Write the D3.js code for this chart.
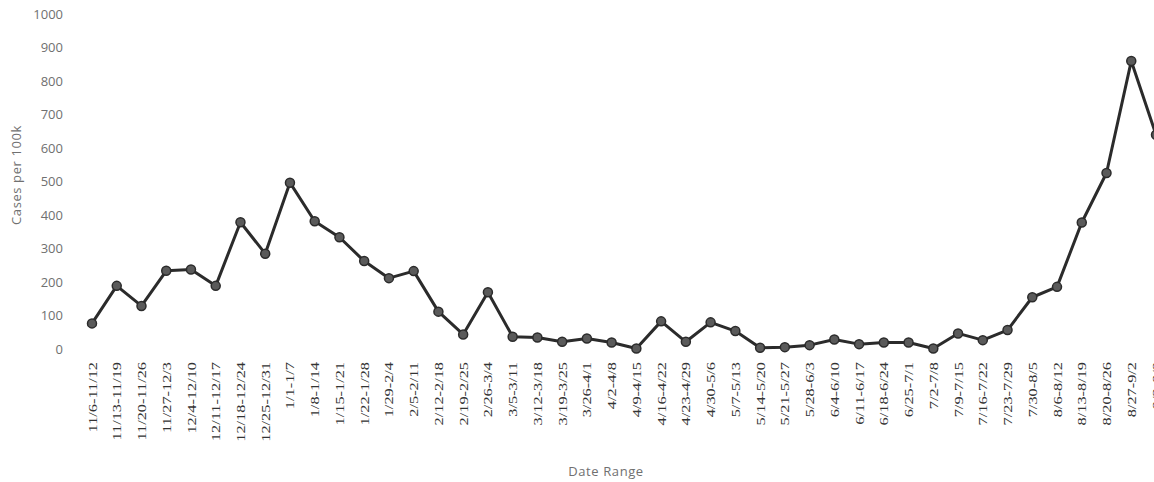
<!DOCTYPE html>
<html lang="en">
<head>
<meta charset="UTF-8">
<title>Cases per 100k</title>
<script src="https://d3js.org/d3.v7.min.js"></script>
<style>
  html, body { margin: 0; padding: 0; background: #fff; overflow: hidden; }
  svg { display: block; }
  .ytick text { font-family: "Open Sans", "Liberation Sans", sans-serif; font-size: 13px; fill: #707070; }
  .xtick text { font-family: "Liberation Serif", "DejaVu Serif", serif; font-size: 11.5px; fill: #333; }
  .axis-title { font-family: "Open Sans", "Liberation Sans", sans-serif; font-size: 13px; letter-spacing: 0.6px; fill: #707070; }
</style>
</head>
<body>
<svg width="1154" height="482"></svg>
<script>
// weekly date ranges
const weeks = [
  "11/6-11/12", "11/13-11/19", "11/20-11/26", "11/27-12/3", "12/4-12/10",
  "12/11-12/17", "12/18-12/24", "12/25-12/31", "1/1-1/7", "1/8-1/14",
  "1/15-1/21", "1/22-1/28", "1/29-2/4", "2/5-2/11", "2/12-2/18",
  "2/19-2/25", "2/26-3/4", "3/5-3/11", "3/12-3/18", "3/19-3/25",
  "3/26-4/1", "4/2-4/8", "4/9-4/15", "4/16-4/22", "4/23-4/29",
  "4/30-5/6", "5/7-5/13", "5/14-5/20", "5/21-5/27", "5/28-6/3",
  "6/4-6/10", "6/11-6/17", "6/18-6/24", "6/25-7/1", "7/2-7/8",
  "7/9-7/15", "7/16-7/22", "7/23-7/29", "7/30-8/5", "8/6-8/12",
  "8/13-8/19", "8/20-8/26", "8/27-9/2", "9/3-9/9"
];

const cases = [
  75, 187, 127, 232, 236,
  187, 377, 283, 495, 380,
  332, 261, 210, 231, 110,
  42, 168, 35, 33, 20,
  30, 18, 0, 81, 20,
  78, 52, 2, 4, 10,
  27, 13, 18, 18, 0,
  45, 25, 55, 153, 184,
  376, 524, 858, 638
];

const yTicks = [0, 100, 200, 300, 400, 500, 600, 700, 800, 900, 1000];

const svg = d3.select("svg");

var x = d3.scalePoint().domain(weeks).range([92, 1156]);
var y = d3.scaleLinear().domain([0, 1000]).range([348.5, 13.5]);

// y axis labels only, no line
var yAxis = svg.append("g")
  .attr("class", "ytick")
  .attr("transform", "translate(63,0)")
  .call(d3.axisLeft(y).tickValues(yTicks).tickFormat(d3.format("d")).tickSize(0).tickPadding(0));
yAxis.select(".domain").remove();
yAxis.selectAll("text").attr("dy", "0.35em");

// x axis labels, rotated and stretched like the original
var xAxis = svg.append("g")
  .attr("class", "xtick")
  .attr("transform", "translate(0,362)")
  .call(d3.axisBottom(x).tickSize(0).tickPadding(0));
xAxis.select(".domain").remove();
xAxis.selectAll("text")
  .attr("transform", "rotate(-90) scale(1.42,1)")
  .attr("x", 0)
  .attr("y", 0)
  .attr("dy", "0.35em")
  .style("text-anchor", "end");

svg.append("text")
  .attr("class", "axis-title")
  .attr("transform", "translate(16,175) rotate(-90)")
  .attr("text-anchor", "middle")
  .attr("dy", "0.35em")
  .text("Cases per 100k");

svg.append("text")
  .attr("class", "axis-title")
  .attr("x", 606)
  .attr("y", 471)
  .attr("text-anchor", "middle")
  .attr("dy", "0.35em")
  .text("Date Range");

var line = d3.line()
  .x(function(d, i) { return x(weeks[i]); })
  .y(function(d) { return y(d); });

svg.append("path")
  .datum(cases)
  .attr("d", line)
  .attr("fill", "none")
  .attr("stroke", "#2b2b2b")
  .attr("stroke-width", 3)
  .attr("stroke-linejoin", "round");

svg.append("g")
  .selectAll("circle")
  .data(cases)
  .enter()
  .append("circle")
  .attr("cx", function(d, i) { return x(weeks[i]); })
  .attr("cy", function(d) { return y(d); })
  .attr("r", 4.5)
  .attr("fill", "#5a5a5a")
  .attr("stroke", "#2b2b2b")
  .attr("stroke-width", 1.5);
</script>
</body>
</html>
